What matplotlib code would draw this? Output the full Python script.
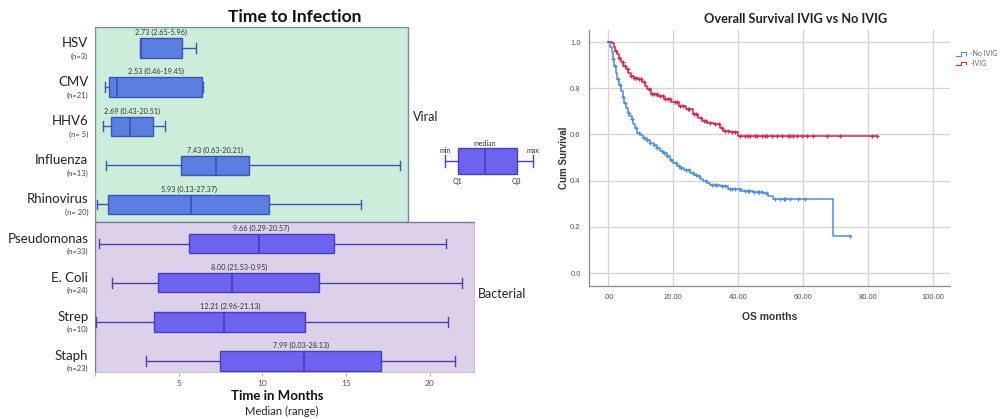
import numpy as np
import matplotlib
matplotlib.use("Agg")
import matplotlib.pyplot as plt
from matplotlib.patches import Rectangle
from matplotlib.lines import Line2D
from matplotlib.legend_handler import HandlerBase

plt.rcParams['font.family'] = ['Lato', 'DejaVu Sans']

# ---------------- Left chart data (Time to Infection) ----------------
categories = ["HSV", "CMV", "HHV6", "Influenza", "Rhinovirus",
              "Pseudomonas", "E. Coli", "Strep", "Staph"]
n_labels = ["(n=3)", "(n=21)", "(n= 5)", "(n=13)", "(n= 20)",
            "(n=33)", "(n=24)", "(n=10)", "(n=23)"]
groups = ["viral"] * 5 + ["bacterial"] * 4
box_min = [2.69, 0.60, 0.48, 0.66, 0.12, 0.22, 1.02, 0.06, 3.02]
box_q1 = [2.69, 0.84, 0.96, 5.15, 0.78, 5.63, 3.77, 3.53, 7.49]
box_med = [2.75, 1.32, 2.10, 7.25, 5.75, 9.82, 8.17, 7.72, 12.46]
box_q3 = [5.21, 6.41, 3.47, 9.22, 10.42, 14.25, 13.41, 12.57, 17.07]
box_max = [6.05, 6.47, 4.19, 18.20, 15.87, 20.96, 21.90, 21.08, 21.53]
annotations = ["2.73 (2.65-5.96)", "2.53 (0.46-19.45)", "2.69 (0.43-20.51)",
               "7.43 (0.63-20.21)", "5.93 (0.13-27.37)", "9.66 (0.29-20.57)",
               "8.00 (21.53-0.95)", "12.21 (2.96-21.13)", "7.99 (0.03-28.13)"]
x_ticks = [0, 5, 10, 15, 20]
x_tick_labels = ["", "5", "10", "15", "20"]
# key diagram (min, Q1, median, Q3, max)
key_stats = [0.0, 0.7, 2.2, 4.0, 4.9]

# ---------------- Right chart data (Kaplan-Meier) ----------------
noivig_t = [0, 0.5, 1.1, 1.5, 1.9, 2.4, 2.9, 3.4, 4.0, 4.5, 5.0, 5.5, 6.0, 6.6, 7.3,
            7.8, 8.3, 9.0, 9.9, 10.9, 11.9, 12.9, 14.0, 15.0, 16.0, 17.0, 18.0, 19.0,
            20.0, 21.1, 22.2, 23.5, 25.2, 26.3, 27.3, 28.3, 29.3, 30.3, 31.4, 34.5,
            37.0, 40.6, 44.7, 47.8, 49.3, 50.9, 69.3]
noivig_s = [1.0, 0.98, 0.955, 0.925, 0.897, 0.868, 0.84, 0.814, 0.788, 0.763, 0.738,
            0.716, 0.694, 0.68, 0.665, 0.647, 0.629, 0.607, 0.596, 0.585, 0.575, 0.564,
            0.553, 0.542, 0.53, 0.518, 0.506, 0.49, 0.475, 0.465, 0.455, 0.445, 0.433,
            0.426, 0.419, 0.408, 0.397, 0.39, 0.383, 0.378, 0.364, 0.357, 0.352, 0.348,
            0.333, 0.322, 0.16]
noivig_end = 74.5
noivig_cens = [1.5, 2.2, 3, 3.8, 4.5, 5.3, 6.5, 7.5, 8.5, 9.5, 11, 12, 13, 14, 15, 16.5,
               17.3, 18, 19.5, 21, 21.7, 22.5, 24, 25, 26, 27, 28, 30, 32, 33, 33.5, 35,
               36, 37.5, 38, 39, 40.5, 42, 43, 43.5, 45, 46, 46.5, 47.5, 48.5, 51.5, 53,
               54, 54.5, 56, 58.5, 60.6, 74.5]

ivig_t = [0, 1.1, 1.7, 2.2, 2.7, 3.3, 4.0, 4.7, 5.5, 6.2, 7.0, 8.0, 9.1, 10.6, 11.4,
          12.1, 13.2, 15.2, 17.3, 19.3, 21.9, 24.0, 26.0, 27.6, 29.0, 30.4, 32.5, 34.5,
          35.5, 37.6, 40.0]
ivig_s = [1.0, 0.996, 0.977, 0.962, 0.948, 0.93, 0.912, 0.898, 0.883, 0.868, 0.854,
          0.846, 0.839, 0.825, 0.81, 0.797, 0.775, 0.768, 0.754, 0.739, 0.725, 0.71,
          0.688, 0.67, 0.66, 0.65, 0.643, 0.629, 0.614, 0.609, 0.595]
ivig_end = 82.7
ivig_cens = [2.5, 3.5, 4.5, 5.2, 6, 7, 8, 8.7, 9.5, 10.2, 11, 12.5, 13.5, 14, 15, 16,
             16.8, 17.5, 18.4, 19, 20.5, 21.3, 22, 23, 24.5, 25, 26.5, 27, 28.5, 29.5,
             30, 31.5, 33, 34, 35, 36, 37, 38, 39, 40.6, 42.2, 43.1, 43.7, 45.1, 45.7,
             47.3, 48.2, 48.8, 50.4, 51.9, 53.4, 55.5, 56, 57, 58, 59.6, 61.1, 63.2,
             67.3, 71.4, 81.1, 82.7]
km_xticks = [0, 20, 40, 60, 80, 100]
km_xticklabels = [".00", "20.00", "40.00", "60.00", "80.00", "100.00"]
km_yticks = [0.0, 0.2, 0.4, 0.6, 0.8, 1.0]

# ---------------- Figure ----------------
W, H = 1007, 419
fig = plt.figure(figsize=(W / 100, H / 100), dpi=100)

def fx(px):
    return px / W

def fy(py):
    return 1 - py / H

# Left axes
axL = fig.add_axes([fx(95), fy(373), fx(475) - fx(95), fy(27) - fy(373)])
axL.set_xlim(0, 22.7)
axL.set_ylim(8.31, -0.54)
for sp in axL.spines.values():
    sp.set_visible(False)

axL.add_patch(Rectangle((0, -0.53), 18.7, 4.99, facecolor="#CBEDD9",
                        edgecolor="#6F8FA0", lw=1.0, zorder=0))
axL.add_patch(Rectangle((0, 4.46), 22.68, 3.84, facecolor="#DDD1EA",
                        edgecolor="#7E74A8", lw=1.0, zorder=0))

colors = {"viral": ("#5B7FE0", "#3B55B8"), "bacterial": ("#6E63EE", "#4A3FB5")}
for i in range(len(categories)):
    face, edge = colors[groups[i]]
    st = [dict(whislo=box_min[i], q1=box_q1[i], med=box_med[i], q3=box_q3[i],
               whishi=box_max[i], fliers=[])]
    axL.bxp(st, positions=[i], widths=0.5, vert=False, patch_artist=True,
            showfliers=False, capwidths=0.25,
            boxprops=dict(facecolor=face, edgecolor=edge, lw=1.0),
            medianprops=dict(color=edge, lw=1.3),
            whiskerprops=dict(color=edge, lw=1.0),
            capprops=dict(color=edge, lw=1.0))
    cx = (box_q1[i] + box_q3[i]) / 2
    axL.text(cx, i - 0.3, annotations[i], ha="center", va="bottom",
             fontsize=5.2, color="#333333")
    axL.text(-0.4, i - 0.13, categories[i], ha="right", va="center",
             fontsize=9.5, color="#222222", clip_on=False)
    axL.text(-0.4, i + 0.2, n_labels[i], ha="right", va="center",
             fontsize=5.5, color="#444444", clip_on=False)

axL.set_yticks([])
axL.set_xticks(x_ticks)
axL.set_xticklabels(x_tick_labels, fontsize=6, color="#555555")
axL.tick_params(axis="x", length=2, color="#aaaaaa", pad=3)

axL.text(19.0, 1.76, "Viral", ha="left", va="center", fontsize=9,
         color="#222222", clip_on=False)
axL.text(22.9, 6.29, "Bacterial", ha="left", va="center", fontsize=9,
         color="#222222", clip_on=False)

fig.text(fx(295), fy(17), "Time to Infection", ha="center", va="center",
         fontsize=12.5, fontweight="bold", color="#111111")
fig.text(fx(277), fy(396), "Time in Months", ha="center", va="center",
         fontsize=9.5, fontweight="bold", color="#111111")
fig.text(fx(282), fy(411), "Median (range)", ha="center", va="center",
         fontsize=8, color="#222222")

# Key diagram
axK = fig.add_axes([fx(445), fy(176), fx(533) - fx(445), fy(146) - fy(176)])
axK.set_xlim(key_stats[0], key_stats[4])
axK.set_ylim(-1, 1)
axK.axis("off")
kst = [dict(whislo=key_stats[0], q1=key_stats[1], med=key_stats[2],
            q3=key_stats[3], whishi=key_stats[4], fliers=[])]
kart = axK.bxp(kst, positions=[0.0], widths=1.75, vert=False, patch_artist=True,
               showfliers=False, capwidths=0.8,
               boxprops=dict(facecolor="#6E63EE", edgecolor="#4A3FB5", lw=1.0),
               medianprops=dict(color="#4A3FB5", lw=1.2),
               whiskerprops=dict(color="#4A3FB5", lw=1.0),
               capprops=dict(color="#4A3FB5", lw=1.0))
for k in kart.values():
    for a in k:
        a.set_clip_on(False)
axK.text(key_stats[0], 0.5, "min", fontsize=5, ha="center", va="bottom", color="#333", clip_on=False)
axK.text(key_stats[2], 0.95, "median", fontsize=5, ha="center", va="bottom", color="#333", clip_on=False)
axK.text(key_stats[4], 0.5, "max", fontsize=5, ha="center", va="bottom", color="#333", clip_on=False)
axK.text(key_stats[1], -1.1, "Q1", fontsize=5, ha="center", va="top", color="#333", clip_on=False)
axK.text(key_stats[3], -1.1, "Q3", fontsize=5, ha="center", va="top", color="#333", clip_on=False)

# Right axes: Kaplan-Meier
axR = fig.add_axes([fx(589), fy(286), fx(950) - fx(589), fy(30) - fy(286)])
axR.set_xlim(-5.85, 105.2)
axR.set_ylim(-0.056, 1.052)
for s in ["top", "right"]:
    axR.spines[s].set_visible(False)
for s in ["left", "bottom"]:
    axR.spines[s].set_color("#8a8a8a")
    axR.spines[s].set_linewidth(0.9)
axR.set_xticks(km_xticks)
axR.set_xticklabels(km_xticklabels, fontsize=5.5, color="#555555",
                    family=["Liberation Sans", "DejaVu Sans"])
axR.set_yticks(km_yticks)
axR.set_yticklabels([f"{v:.1f}" for v in km_yticks], fontsize=5.5, color="#555555",
                    family=["Liberation Sans", "DejaVu Sans"])
axR.tick_params(length=0, pad=6)
axR.grid(True, color="#d3d3d3", lw=0.9)
axR.set_axisbelow(True)

blue = "#4A8FDB"
red = "#D4264F"

def km_draw(t, s, end, cens, color):
    tt = list(t) + [end]
    ss = list(s) + [s[-1]]
    axR.step(tt, ss, where="post", color=color, lw=1.1, zorder=3)
    idx = np.searchsorted(np.array(t), np.array(cens), side="right") - 1
    axR.plot(cens, np.array(s)[idx], linestyle="none", marker="+", ms=3.2,
             mew=0.9, color=color, zorder=4)

km_draw(noivig_t, noivig_s, noivig_end, noivig_cens, blue)
km_draw(ivig_t, ivig_s, ivig_end, ivig_cens, red)

fig.text(fx(796), fy(19), "Overall Survival IVIG vs No IVIG", ha="center",
         va="center", fontsize=9.2, fontweight="bold", color="#222222")
axR.set_xlabel("OS months", fontsize=7.5, fontweight="bold", color="#333333",
               family=["Liberation Sans", "DejaVu Sans"], labelpad=8)
axR.set_ylabel("Cum Survival", fontsize=7, fontweight="bold", color="#333333",
               family=["Liberation Sans", "DejaVu Sans"], labelpad=1)


class StepHandler(HandlerBase):
    def create_artists(self, legend, orig_handle, xdescent, ydescent, width,
                       height, fontsize, trans):
        xs = np.array([0, 0.45, 0.45, 0.9, 0.9]) * width - xdescent
        ys = np.array([0.15, 0.15, 0.85, 0.85, 0.35]) * height - ydescent
        ln = Line2D(xs, ys, color=orig_handle.get_color(), lw=0.8, transform=trans)
        return [ln]


h1 = Line2D([], [], color=blue)
h2 = Line2D([], [], color=red)
fig.legend([h1, h2], ["-No IVIG", "-IVIG"], loc="upper left",
           bbox_to_anchor=(fx(950), fy(44)), frameon=False, fontsize=5,
           handler_map={Line2D: StepHandler()}, handlelength=1.6,
           handletextpad=0.4, labelspacing=0.4, labelcolor="#666666")

fig.savefig("out.png", dpi=100)
